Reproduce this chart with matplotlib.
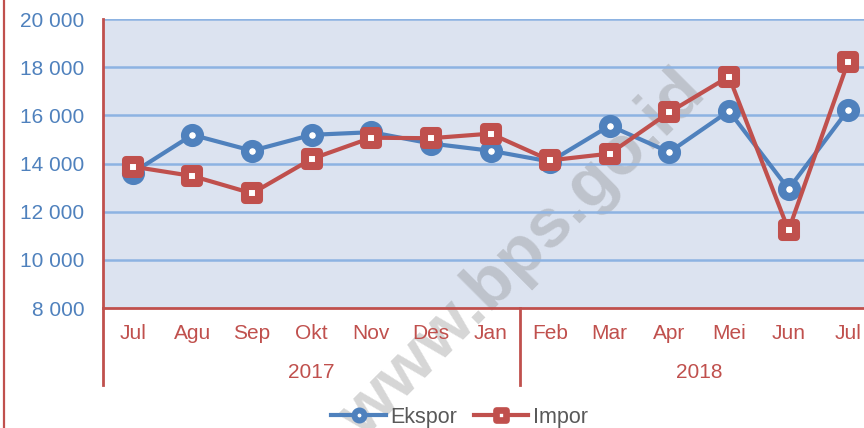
import matplotlib
matplotlib.use("Agg")
import matplotlib.pyplot as plt
from matplotlib.lines import Line2D
from matplotlib.markers import MarkerStyle
import matplotlib.transforms as mtransforms

plt.rcParams['font.family'] = ['Liberation Sans', 'DejaVu Sans']

months = ["Jul", "Agu", "Sep", "Okt", "Nov", "Des", "Jan",
          "Feb", "Mar", "Apr", "Mei", "Jun", "Jul"]
years = ["2017", "2018"]
year_counts = [7, 6]
ekspor = [13620, 15190, 14530, 15190, 15300, 14830, 14530,
          14080, 15570, 14470, 16180, 12940, 16230]
impor = [13870, 13480, 12760, 14190, 15070, 15050, 15240,
         14130, 14410, 16130, 17610, 11230, 18230]
yticks = [8000, 10000, 12000, 14000, 16000, 18000, 20000]

BLUE = "#4F81BD"
RED = "#C0504D"
BG = "#DCE3F0"
GRID = "#8DB3E2"

W, H = 864, 428
fig = plt.figure(figsize=(W / 100, H / 100), dpi=100)
ax = fig.add_axes([103 / W, (H - 308) / H, 775 / W, 289 / H])
ax.set_facecolor(BG)

x = list(range(len(months)))
ax.set_xlim(-0.5, len(months) - 0.5)
ax.set_ylim(yticks[0], yticks[-1])

for v in yticks[1:]:
    ax.axhline(v, color=GRID, lw=1.8, zorder=2.2)

circ = MarkerStyle('o')
sq = MarkerStyle('s', joinstyle='round')
ax.plot(x, ekspor, color=BLUE, lw=3, marker=circ, ms=10.75, mew=5.9,
        mfc='white', mec=BLUE, zorder=3, solid_joinstyle='round')
ax.plot(x, impor, color=RED, lw=3, marker=sq, ms=9.4, mew=5.8,
        mfc='white', mec=RED, zorder=4, solid_joinstyle='round')

ax.set_yticks(yticks)
ax.set_yticklabels([f"{v:,}".replace(",", " ") for v in yticks],
                   color=BLUE, fontsize=15)
ax.tick_params(axis='y', length=0, pad=13.5)
ax.set_xticks([])

for s in ['top', 'right']:
    ax.spines[s].set_visible(False)
ax.spines['bottom'].set_color(RED)
ax.spines['bottom'].set_linewidth(2)
ax.spines['left'].set_color(RED)
ax.spines['left'].set_linewidth(2)

trans = mtransforms.blended_transform_factory(ax.transData, ax.transAxes)
for i, m in enumerate(months):
    ax.text(i, -0.088, m, transform=trans, ha='center', va='center',
            color=RED, fontsize=15, zorder=5)

start = 0
bounds = [-0.5]
for yr, n in zip(years, year_counts):
    ax.text(start + (n - 1) / 2, -0.222, yr, transform=trans, ha='center',
            va='center', color=RED, fontsize=15, zorder=5)
    start += n
    bounds.append(start - 0.5)
for b in bounds:
    ax.plot([b, b], [0, -0.266], transform=trans, color=RED, lw=2,
            clip_on=False, zorder=5)

# left border line of the image
fig.add_artist(Line2D([3.5 / W, 3.5 / W], [0, 1], color=RED, lw=1.6))

handles = [
    Line2D([], [], color=BLUE, lw=3, marker=circ, ms=7.2, mew=4.3,
           mfc='white', mec=BLUE),
    Line2D([], [], color=RED, lw=3, marker=sq, ms=7.5, mew=4.8,
           mfc='white', mec=RED),
]
leg = fig.legend(handles, ["Ekspor", "Impor"], loc='center',
                 bbox_to_anchor=(459.5 / W, (H - 417) / H), ncol=2,
                 frameon=False, fontsize=15.5, handlelength=2.55,
                 handletextpad=0.2, columnspacing=0.75, borderpad=0)
for t in leg.get_texts():
    t.set_color("#595959")

ax.text(523 / W, 1 - 255 / H, "www.bps.go.id", transform=fig.transFigure,
        rotation=45, fontsize=50, fontweight='bold', color='#7f7f7f',
        alpha=0.32, ha='center', va='center', zorder=2, clip_on=False)

fig.savefig("out.png", dpi=100)
